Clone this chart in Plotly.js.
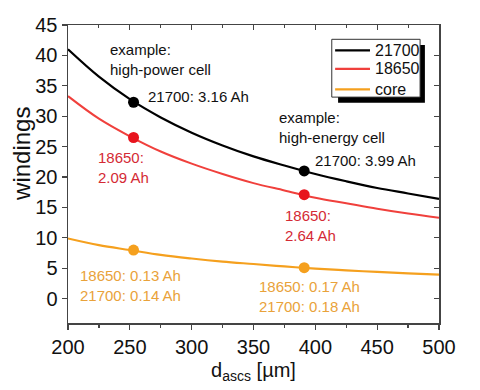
<!DOCTYPE html>
<html>
<head>
<meta charset="utf-8">
<script src="https://cdn.plot.ly/plotly-3.0.1.min.js"></script>
<style>html,body{margin:0;padding:0;background:#fff;}#chart{width:480px;height:390px;}</style>
</head>
<body>
<div id="chart"></div>
<script>
const dAscs = [200, 225, 250, 275, 300, 325, 350, 375, 400, 425, 450, 475, 500];
const windings21700 = [41.0, 36.5, 32.8, 29.8, 27.3, 25.2, 23.4, 21.9, 20.5, 19.3, 18.2, 17.3, 16.4];
const windings18650 = [33.3, 29.6, 26.7, 24.2, 22.2, 20.5, 19.0, 17.8, 16.6, 15.7, 14.8, 14.0, 13.3];
const windingsCore = [9.9, 8.8, 8.0, 7.2, 6.6, 6.1, 5.7, 5.3, 4.95, 4.65, 4.4, 4.15, 3.95];
const exampleX = [253, 391];
const example21700 = [32.3, 21.0];
const example18650 = [26.5, 17.1];
const exampleCore = [8.0, 5.1];
const seriesNames = ["21700", "18650", "core"];
const xTicks = [200, 250, 300, 350, 400, 450, 500];
const yTicks = [0, 5, 10, 15, 20, 25, 30, 35, 40, 45];

const cBlack = "#000000", cRed = "#f0403c", cOrange = "#f5a01e";
const tRed = "#d42a35", tOrange = "#e9a23a";
const lineColors = [cBlack, cRed, cOrange];
const F = "Liberation Sans, Arial, sans-serif";

const traces = [
  {x: dAscs, y: windings21700, name: seriesNames[0], mode: "lines", line: {color: cBlack, width: 2.2, shape: "spline"}},
  {x: dAscs, y: windings18650, name: seriesNames[1], mode: "lines", line: {color: cRed, width: 2, shape: "spline"}},
  {x: dAscs, y: windingsCore, name: seriesNames[2], mode: "lines", line: {color: cOrange, width: 2.2, shape: "spline"}},
  {x: exampleX, y: example21700, mode: "markers", marker: {color: cBlack, size: 11}},
  {x: exampleX, y: example18650, mode: "markers", marker: {color: "#e8141e", size: 11}},
  {x: exampleX, y: exampleCore, mode: "markers", marker: {color: cOrange, size: 11}},
  {x: [dAscs[0]], y: [windingsCore[0]], xaxis: "x2", yaxis: "y2", mode: "markers", hoverinfo: "skip", marker: {opacity: 0}}
];

function ann(text, x, y, color) {
  return {text: text, x: x, y: y, xref: "x", yref: "y", xanchor: "left", yanchor: "middle", align: "left", showarrow: false, font: {family: F, size: 15, color: color}};
}

// manual legend (paper coordinates)
const legRowsY = [0.915, 0.853, 0.784];
const legShapes = [
  {type: "rect", xref: "paper", yref: "paper", x0: 0.728, x1: 0.962, y0: 0.739, y1: 0.933, fillcolor: "#000", line: {width: 0}, layer: "above"},
  {type: "rect", xref: "paper", yref: "paper", x0: 0.711, x1: 0.949, y0: 0.758, y1: 0.952, fillcolor: "#fff", line: {width: 1, color: "#333"}, layer: "above"}
];
const legAnns = [];
seriesNames.forEach((name, i) => {
  legShapes.push({type: "line", xref: "paper", yref: "paper", x0: 0.720, x1: 0.814, y0: legRowsY[i], y1: legRowsY[i], line: {color: lineColors[i], width: 2.2}, layer: "above"});
  legAnns.push({text: name, xref: "paper", yref: "paper", x: 0.822, y: legRowsY[i], xanchor: "left", yanchor: "middle", showarrow: false, font: {family: F, size: 16, color: "#111"}});
});

const yTitle = {text: "windings", xref: "paper", yref: "paper", x: -0.127, y: 0.567, xanchor: "center", yanchor: "middle", textangle: -90, showarrow: false, font: {family: F, size: 24, color: "#111"}};

const layout = {
  width: 480, height: 390,
  margin: {l: 68, r: 41, t: 25, b: 67},
  paper_bgcolor: "#fff", plot_bgcolor: "#fff",
  font: {family: F, color: "#111"},
  showlegend: false,
  xaxis: {range: [200, 500], tickvals: xTicks, ticks: "outside", ticklen: 5, tickwidth: 1.2, tickcolor: "#444",
    minor: {dtick: 25, ticks: "outside", ticklen: 3, tickcolor: "#444"},
    showline: true, linecolor: "#444", linewidth: 1.5, showgrid: false, zeroline: false,
    tickfont: {family: F, size: 20, color: "#111"},
    title: {text: "d<sub>ascs</sub> [µm]", font: {family: F, size: 20, color: "#111"}, standoff: 6}},
  yaxis: {range: [-4, 45], tickvals: yTicks, ticks: "outside", ticklen: 5, tickwidth: 1.2, tickcolor: "#444",
    showline: true, linecolor: "#444", linewidth: 1.5, showgrid: false, zeroline: false,
    tickfont: {family: F, size: 20, color: "#111"}},
  xaxis2: {overlaying: "x", side: "top", range: [200, 500], tickvals: xTicks, ticks: "inside", ticklen: 5, tickcolor: "#444",
    minor: {dtick: 25, ticks: "inside", ticklen: 3, tickcolor: "#444"},
    showticklabels: false, showline: true, linecolor: "#444", linewidth: 1.5, showgrid: false, zeroline: false},
  yaxis2: {overlaying: "y", side: "right", range: [-4, 45], tickvals: yTicks, ticks: "inside", ticklen: 5, tickcolor: "#444",
    showticklabels: false, showline: true, linecolor: "#444", linewidth: 1.5, showgrid: false, zeroline: false},
  shapes: legShapes,
  annotations: [
    ann("example:<br>high-power cell", 232.3, 39.3, "#111"),
    ann("21700: 3.16 Ah", 263, 33.2, "#111"),
    ann("18650:<br>2.09 Ah", 222.6, 21.6, tRed),
    ann("example:<br>high-energy cell", 369, 28.2, "#111"),
    ann("21700: 3.99 Ah", 398, 22.7, "#111"),
    ann("18650:<br>2.64 Ah", 373.8, 12.1, tRed),
    ann("18650: 0.13 Ah<br>21700: 0.14 Ah", 208.1, 2.2, tOrange),
    ann("18650: 0.17 Ah<br>21700: 0.18 Ah", 352.8, 0.4, tOrange),
    yTitle
  ].concat(legAnns)
};

Plotly.newPlot("chart", traces, layout, {displayModeBar: false, staticPlot: true});
</script>
</body>
</html>
